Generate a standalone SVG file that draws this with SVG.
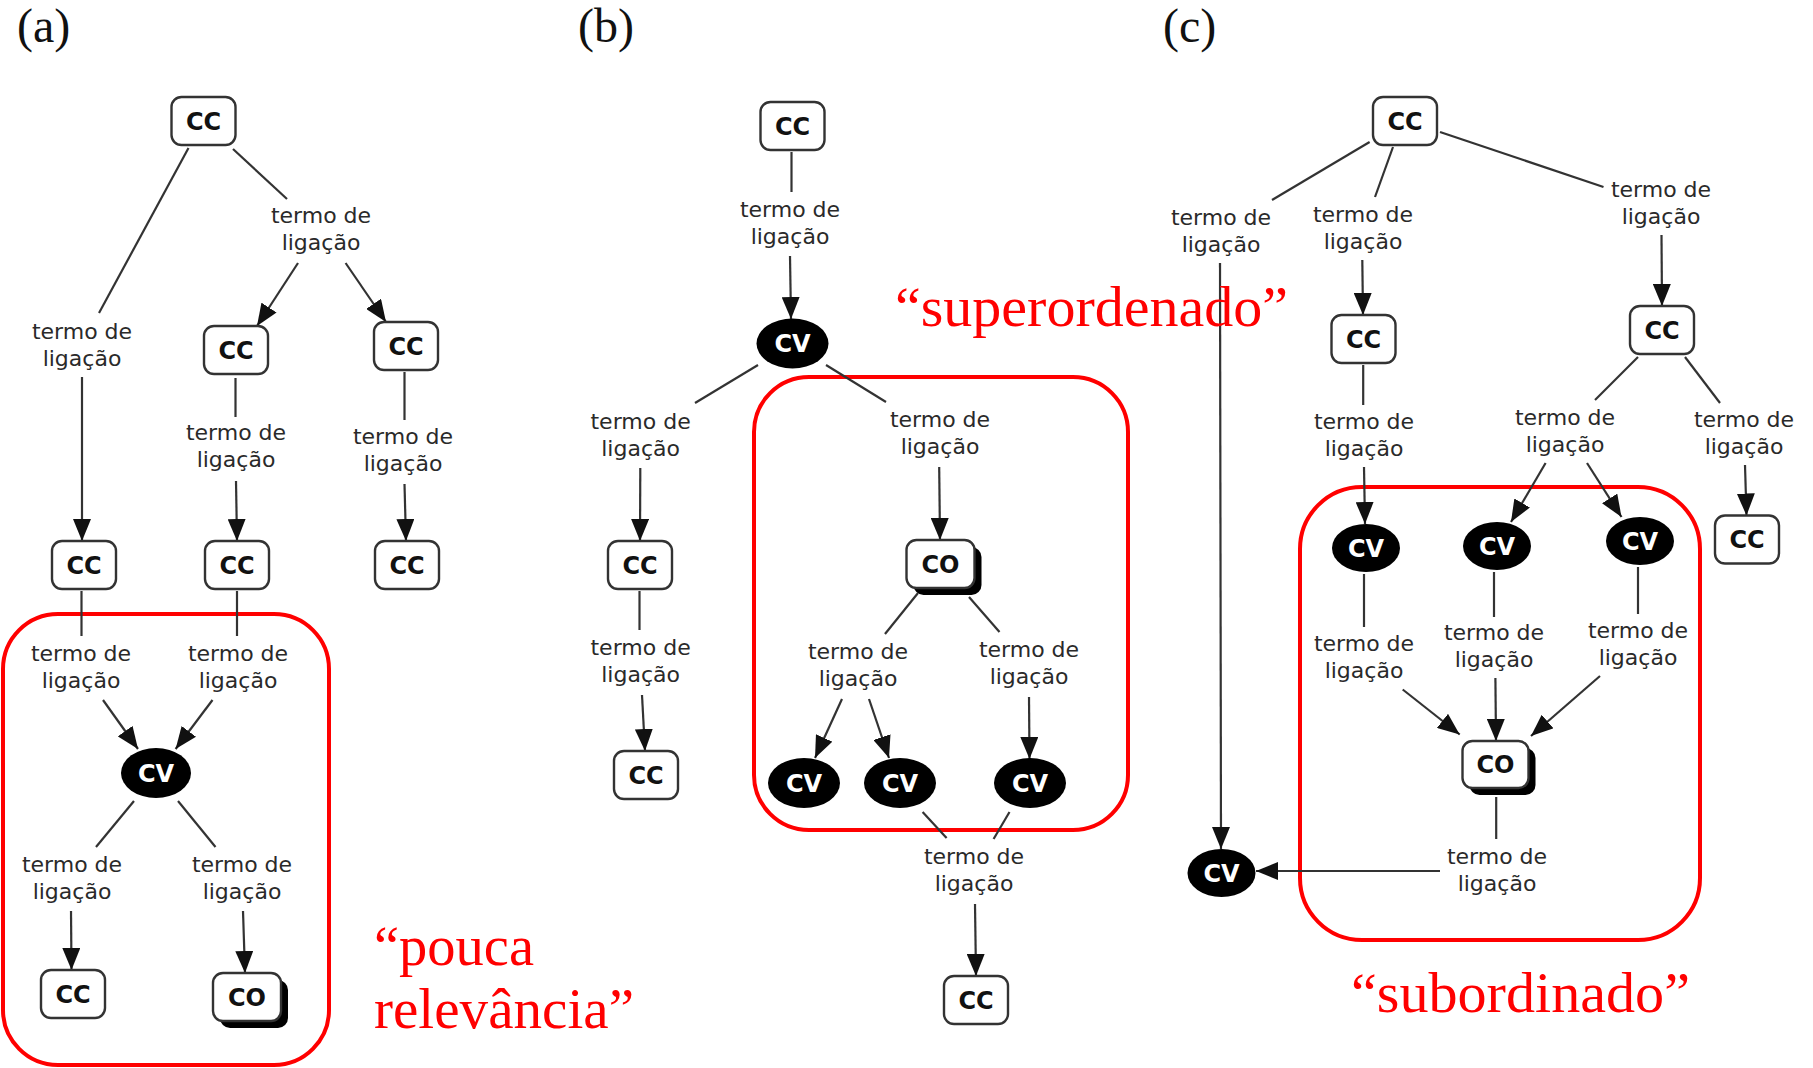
<svg xmlns="http://www.w3.org/2000/svg" width="1813" height="1068" viewBox="0 0 1813 1068">
<style>
.bg{fill:#fff}
.cc{fill:#fff;stroke:#333;stroke-width:2.4}
.sh{fill:#000}
.cv{fill:#000}
.nt{font-family:"DejaVu Sans",Verdana,sans-serif;font-weight:bold;font-size:24px;text-anchor:middle;fill:#111}
.nw{font-family:"DejaVu Sans",Verdana,sans-serif;font-weight:bold;font-size:24px;text-anchor:middle;fill:#fff}
.lb{font-family:"DejaVu Sans",Verdana,sans-serif;font-size:22px;text-anchor:middle;fill:#2a2a2a}
.ln{stroke:#333;stroke-width:2.2;fill:none}
.ar{stroke:#333;stroke-width:2.2;fill:none;marker-end:url(#ah)}
.red{fill:none;stroke:#f00;stroke-width:4}
.rt{font-family:"Liberation Serif","Times New Roman",serif;font-size:56px;fill:#f00}
.pl{font-family:"Liberation Serif","Times New Roman",serif;font-size:48px;fill:#111}
</style>
<defs>
<marker id="ah" markerUnits="userSpaceOnUse" markerWidth="22" markerHeight="18" refX="22" refY="9" orient="auto">
<path d="M0,0 L22,9 L0,18 z" fill="#111"/>
</marker>
</defs>
<rect class="bg" x="0" y="0" width="1813" height="1068"/>

<!-- panel labels -->
<text class="pl" x="17" y="42">(a)</text>
<text class="pl" x="578" y="42">(b)</text>
<text class="pl" x="1163" y="42">(c)</text>

<!-- red highlight frames -->
<g id="highlights">
<rect class="red" x="3" y="614" width="326" height="451" rx="55"/>
<rect class="red" x="754" y="377" width="374" height="453" rx="55"/>
<rect class="red" x="1300" y="487" width="400" height="453" rx="62"/>
</g>

<!-- connectors -->
<g id="connectors">
<!-- panel a -->
<line class="ln" x1="188.5" y1="148" x2="99" y2="313"/>
<line class="ar" x1="82" y1="377" x2="82" y2="541"/>
<line class="ln" x1="233" y1="149" x2="287" y2="199"/>
<line class="ar" x1="298" y1="263" x2="257" y2="326"/>
<line class="ar" x1="345.6" y1="263" x2="386" y2="322"/>
<line class="ln" x1="235.5" y1="378" x2="235.5" y2="417"/>
<line class="ar" x1="236" y1="481" x2="237" y2="541"/>
<line class="ln" x1="404.5" y1="372" x2="404.5" y2="420"/>
<line class="ar" x1="404.5" y1="484" x2="406" y2="541"/>
<line class="ln" x1="81.5" y1="591" x2="81.5" y2="636"/>
<line class="ln" x1="237" y1="591" x2="237" y2="636"/>
<line class="ar" x1="103" y1="700" x2="138" y2="749"/>
<line class="ar" x1="212.5" y1="700" x2="175.6" y2="749"/>
<line class="ln" x1="134" y1="801" x2="96" y2="847"/>
<line class="ln" x1="178" y1="801" x2="215.5" y2="847"/>
<line class="ar" x1="71" y1="911" x2="71.5" y2="970"/>
<line class="ar" x1="243" y1="911" x2="245" y2="973"/>
<!-- panel b -->
<line class="ln" x1="791.5" y1="152" x2="791.5" y2="192"/>
<line class="ar" x1="790" y1="256" x2="791" y2="319"/>
<line class="ln" x1="758" y1="365" x2="695" y2="403"/>
<line class="ln" x1="826" y1="365" x2="886" y2="402"/>
<line class="ar" x1="640.3" y1="468" x2="640" y2="541"/>
<line class="ar" x1="939.2" y1="467" x2="940" y2="540"/>
<line class="ln" x1="639.5" y1="591" x2="639.5" y2="630"/>
<line class="ar" x1="642" y1="695" x2="645" y2="751"/>
<line class="ln" x1="918" y1="593" x2="885" y2="634"/>
<line class="ln" x1="969" y1="597" x2="999.5" y2="632"/>
<line class="ar" x1="842" y1="699" x2="815" y2="758"/>
<line class="ar" x1="869" y1="699" x2="889" y2="758"/>
<line class="ar" x1="1029" y1="697" x2="1029.5" y2="759"/>
<line class="ln" x1="922.6" y1="812" x2="946.6" y2="838"/>
<line class="ln" x1="1009.5" y1="812" x2="993.6" y2="839"/>
<line class="ar" x1="975" y1="904" x2="976" y2="976"/>
<!-- panel c -->
<line class="ln" x1="1369.6" y1="142" x2="1272" y2="200"/>
<line class="ln" x1="1393" y1="147" x2="1375" y2="197"/>
<line class="ln" x1="1440" y1="132" x2="1603.5" y2="187"/>
<line class="ar" x1="1220" y1="263" x2="1221" y2="849"/>
<line class="ar" x1="1362.3" y1="260" x2="1363" y2="315"/>
<line class="ar" x1="1661.5" y1="235" x2="1662" y2="306"/>
<line class="ln" x1="1363.2" y1="365" x2="1363.2" y2="405"/>
<line class="ar" x1="1364" y1="467" x2="1365" y2="524"/>
<line class="ln" x1="1638" y1="357" x2="1595" y2="400"/>
<line class="ln" x1="1685" y1="357" x2="1720" y2="403"/>
<line class="ar" x1="1545.6" y1="463" x2="1511" y2="522"/>
<line class="ar" x1="1587" y1="463" x2="1621.5" y2="517"/>
<line class="ar" x1="1745" y1="465" x2="1746.5" y2="515.5"/>
<line class="ln" x1="1364" y1="574" x2="1364" y2="627"/>
<line class="ln" x1="1494" y1="572" x2="1494" y2="617"/>
<line class="ln" x1="1638" y1="567" x2="1638" y2="614"/>
<line class="ar" x1="1402.7" y1="689.5" x2="1459.7" y2="734.5"/>
<line class="ar" x1="1495.4" y1="678" x2="1496" y2="741"/>
<line class="ar" x1="1600" y1="676" x2="1531" y2="736"/>
<line class="ln" x1="1496.2" y1="797" x2="1496.2" y2="839"/>
<line class="ar" x1="1440" y1="871" x2="1256" y2="871"/>
</g>

<!-- linking labels -->
<g id="labels">
<text class="lb" x="82" y="339">termo de</text><text class="lb" x="82" y="366">ligação</text>
<text class="lb" x="321" y="223">termo de</text><text class="lb" x="321" y="250">ligação</text>
<text class="lb" x="236" y="440">termo de</text><text class="lb" x="236" y="467">ligação</text>
<text class="lb" x="403" y="444">termo de</text><text class="lb" x="403" y="471">ligação</text>
<text class="lb" x="81" y="661">termo de</text><text class="lb" x="81" y="688">ligação</text>
<text class="lb" x="238" y="661">termo de</text><text class="lb" x="238" y="688">ligação</text>
<text class="lb" x="72" y="872">termo de</text><text class="lb" x="72" y="899">ligação</text>
<text class="lb" x="242" y="872">termo de</text><text class="lb" x="242" y="899">ligação</text>

<text class="lb" x="790" y="217">termo de</text><text class="lb" x="790" y="244">ligação</text>
<text class="lb" x="640.6" y="429">termo de</text><text class="lb" x="640.6" y="456">ligação</text>
<text class="lb" x="940" y="427">termo de</text><text class="lb" x="940" y="454">ligação</text>
<text class="lb" x="640.6" y="655">termo de</text><text class="lb" x="640.6" y="682">ligação</text>
<text class="lb" x="858" y="659">termo de</text><text class="lb" x="858" y="686">ligação</text>
<text class="lb" x="1029" y="657">termo de</text><text class="lb" x="1029" y="684">ligação</text>
<text class="lb" x="974" y="864">termo de</text><text class="lb" x="974" y="891">ligação</text>

<text class="lb" x="1221" y="225">termo de</text><text class="lb" x="1221" y="252">ligação</text>
<text class="lb" x="1363" y="222">termo de</text><text class="lb" x="1363" y="249">ligação</text>
<text class="lb" x="1661" y="197">termo de</text><text class="lb" x="1661" y="224">ligação</text>
<text class="lb" x="1364" y="429">termo de</text><text class="lb" x="1364" y="456">ligação</text>
<text class="lb" x="1565" y="425">termo de</text><text class="lb" x="1565" y="452">ligação</text>
<text class="lb" x="1744" y="427">termo de</text><text class="lb" x="1744" y="454">ligação</text>
<text class="lb" x="1364" y="651">termo de</text><text class="lb" x="1364" y="678">ligação</text>
<text class="lb" x="1494" y="640">termo de</text><text class="lb" x="1494" y="667">ligação</text>
<text class="lb" x="1638" y="638">termo de</text><text class="lb" x="1638" y="665">ligação</text>
<text class="lb" x="1497" y="864">termo de</text><text class="lb" x="1497" y="891">ligação</text>
</g>

<!-- panel a nodes -->
<g id="a-cc1"><rect class="cc" x="171.5" y="97" width="64" height="48" rx="10"/><text class="nt" x="203.5" y="129.5">CC</text></g>
<g id="a-cc2"><rect class="cc" x="204" y="326" width="64" height="48" rx="10"/><text class="nt" x="236" y="358.5">CC</text></g>
<g id="a-cc3"><rect class="cc" x="374" y="322" width="64" height="48" rx="10"/><text class="nt" x="406" y="354.5">CC</text></g>
<g id="a-cc4"><rect class="cc" x="52" y="541" width="64" height="48" rx="10"/><text class="nt" x="84" y="573.5">CC</text></g>
<g id="a-cc5"><rect class="cc" x="205" y="541" width="64" height="48" rx="10"/><text class="nt" x="237" y="573.5">CC</text></g>
<g id="a-cc6"><rect class="cc" x="375" y="541" width="64" height="48" rx="10"/><text class="nt" x="407" y="573.5">CC</text></g>
<g id="a-cv"><ellipse class="cv" cx="156" cy="773" rx="35" ry="25"/><text class="nw" x="156" y="781.5">CV</text></g>
<g id="a-cc7"><rect class="cc" x="41" y="970" width="64" height="48" rx="10"/><text class="nt" x="73" y="1002.5">CC</text></g>
<g id="a-co"><rect class="sh" x="220" y="980" width="68" height="48" rx="10"/><rect class="cc" x="213" y="973" width="68" height="48" rx="10"/><text class="nt" x="247" y="1005.5">CO</text></g>

<!-- panel b nodes -->
<g id="b-cc1"><rect class="cc" x="760.5" y="102" width="64" height="48" rx="10"/><text class="nt" x="792.5" y="134.5">CC</text></g>
<g id="b-cv1"><ellipse class="cv" cx="792.5" cy="343.5" rx="36" ry="25"/><text class="nw" x="792.5" y="352">CV</text></g>
<g id="b-cc2"><rect class="cc" x="608" y="541" width="64" height="48" rx="10"/><text class="nt" x="640" y="573.5">CC</text></g>
<g id="b-co"><rect class="sh" x="913.5" y="547" width="68" height="48" rx="10"/><rect class="cc" x="906.5" y="540" width="68" height="48" rx="10"/><text class="nt" x="940.5" y="572.5">CO</text></g>
<g id="b-cc3"><rect class="cc" x="614" y="751" width="64" height="48" rx="10"/><text class="nt" x="646" y="783.5">CC</text></g>
<g id="b-cv2"><ellipse class="cv" cx="804" cy="783" rx="36" ry="25"/><text class="nw" x="804" y="791.5">CV</text></g>
<g id="b-cv3"><ellipse class="cv" cx="900" cy="783" rx="36" ry="25"/><text class="nw" x="900" y="791.5">CV</text></g>
<g id="b-cv4"><ellipse class="cv" cx="1030" cy="783" rx="36" ry="25"/><text class="nw" x="1030" y="791.5">CV</text></g>
<g id="b-cc4"><rect class="cc" x="944" y="976" width="64" height="48" rx="10"/><text class="nt" x="976" y="1008.5">CC</text></g>

<!-- panel c nodes -->
<g id="c-cc1"><rect class="cc" x="1373" y="97" width="64" height="48" rx="10"/><text class="nt" x="1405" y="129.5">CC</text></g>
<g id="c-cc2"><rect class="cc" x="1331.5" y="315" width="64" height="48" rx="10"/><text class="nt" x="1363.5" y="347.5">CC</text></g>
<g id="c-cc3"><rect class="cc" x="1630" y="306" width="64" height="48" rx="10"/><text class="nt" x="1662" y="338.5">CC</text></g>
<g id="c-cv1"><ellipse class="cv" cx="1366" cy="548" rx="34" ry="24"/><text class="nw" x="1366" y="556.5">CV</text></g>
<g id="c-cv2"><ellipse class="cv" cx="1497" cy="546" rx="34" ry="24"/><text class="nw" x="1497" y="554.5">CV</text></g>
<g id="c-cv3"><ellipse class="cv" cx="1640" cy="541" rx="34" ry="24"/><text class="nw" x="1640" y="549.5">CV</text></g>
<g id="c-cc4"><rect class="cc" x="1715" y="515.5" width="64" height="48" rx="10"/><text class="nt" x="1747" y="548">CC</text></g>
<g id="c-co"><rect class="sh" x="1469.5" y="748" width="66" height="47" rx="10"/><rect class="cc" x="1462.5" y="741" width="66" height="47" rx="10"/><text class="nt" x="1495.5" y="773">CO</text></g>
<g id="c-cv4"><ellipse class="cv" cx="1221.5" cy="873" rx="34" ry="24"/><text class="nw" x="1221.5" y="881.5">CV</text></g>

<!-- red annotations -->
<g id="annotations">
<text class="rt" x="895" y="326" textLength="393" lengthAdjust="spacingAndGlyphs">“superordenado”</text>
<text class="rt" x="374" y="965" textLength="160" lengthAdjust="spacingAndGlyphs">“pouca</text>
<text class="rt" x="374" y="1028" textLength="260" lengthAdjust="spacingAndGlyphs">relevância”</text>
<text class="rt" x="1351" y="1012" textLength="339" lengthAdjust="spacingAndGlyphs">“subordinado”</text>
</g>
</svg>
